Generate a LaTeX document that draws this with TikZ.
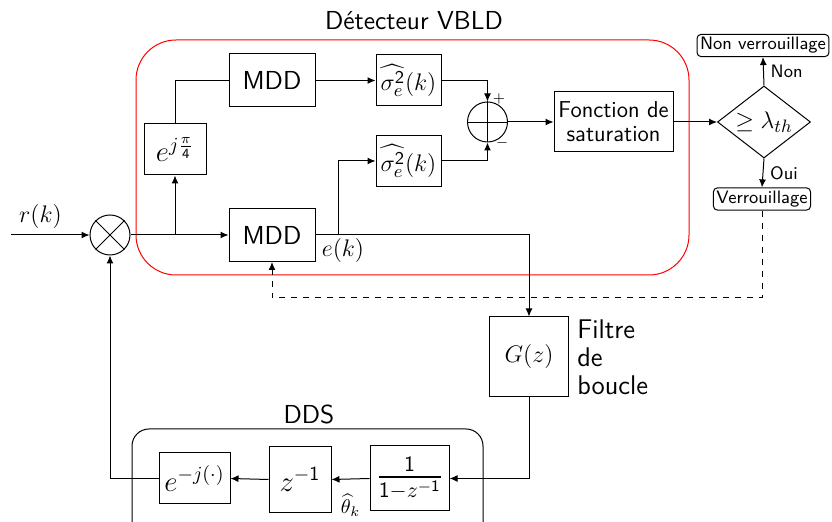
\documentclass[tikz,border=0pt]{standalone}
\usepackage{amsmath}
\usepackage{xcolor}
\usetikzlibrary{positioning,arrows.meta,shapes.geometric}
\DeclareSymbolFont{sfdigits}{OT1}{cmss}{m}{n}
\DeclareMathSymbol{1}{\mathalpha}{sfdigits}{`1}
\DeclareMathSymbol{2}{\mathalpha}{sfdigits}{`2}
\DeclareMathSymbol{4}{\mathalpha}{sfdigits}{`4}

\begin{document}
\begin{tikzpicture}[
      x=0.5pt, y=-0.5pt,
      font=\sffamily\fontsize{13}{15.5}\selectfont,
      box/.style={draw, line width=0.5pt, align=center, inner sep=0pt},
      tag/.style={draw, rounded corners=2pt, inner sep=1.5pt, line width=0.5pt, font=\sffamily\small},
      circ/.style={draw, circle, minimum size=20pt, inner sep=0pt, line width=0.5pt},
      arrow/.style={-{Latex[length=4pt, width=3.5pt]}, line width=0.5pt}
    ]
    \useasboundingbox (0,0) rectangle (832,522);
    \draw[red, rounded corners=20pt, line width=0.5pt] (136,40) rectangle (689,275);
    \draw[rounded corners=8.5pt, line width=0.5pt] (132,429) rectangle (483,545);
    \node (dettitle) at (414,21) {Détecteur VBLD};
    \node (ddstitle) at (309,414) {DDS};

    \node[circ] (mult) at (110,235) {};
    \node[box, minimum width=43pt, minimum height=26.5pt] (mdd1) at (272,80.5) {MDD};
    \node[box, minimum width=43pt, minimum height=26.5pt] (mdd2) at (272,235) {MDD};
    \node[box, minimum width=31pt, minimum height=25.5pt, font=\Large] (ejpi) at (175,149.5) {$e^{j\frac{\pi}{4}}$};
    \node[box, minimum width=32.5pt, minimum height=25.5pt] (sig1) at (408.5,80.5) {$\widehat{\sigma_e^2}(k)$};
    \node[box, minimum width=32.5pt, minimum height=25.5pt] (sig2) at (408.5,161) {$\widehat{\sigma_e^2}(k)$};
    \node[circ] (sum) at (487.5,122) {};
    \node[box, minimum width=59.5pt, minimum height=30pt, font=\sffamily\fontsize{11.5}{12}\selectfont] (fonc) at (613.5,122) {Fonction de\\saturation};
    \node[draw, diamond, aspect=1.3, minimum width=46.5pt, minimum height=36pt, inner sep=0pt, line width=0.5pt] (dec) at (764,122) {$\geq \lambda_{th}$};
    \node[tag] (nonv) at (763,45.5) {Non verrouillage};
    \node[tag] (verr) at (762,199) {Verrouillage};
    \node[box, minimum width=39.5pt, minimum height=40pt] (filt) at (529,357) {$G(z)$};
    \node[anchor=north west, inner sep=0pt, align=left, font=\sffamily\fontsize{13.5}{14}\selectfont] (filtlab) at (577,319) {Filtre\\de\\boucle};
    \node[box, minimum width=35.5pt, minimum height=25.5pt, font=\Large] (ejm) at (194.5,478.5) {$e^{-j(\cdot)}$};
    \node[box, minimum width=31pt, minimum height=33pt, font=\Large] (zinv) at (300,479.5) {$z^{-1}$};
    \node[box, minimum width=39.5pt, minimum height=32.5pt, font=\fontsize{16}{18}\selectfont] (integ) at (409.7,478.5) {$\frac{1}{1-z^{-1}}$};

    \draw (mult.north west) -- (mult.south east) (mult.north east) -- (mult.south west);
    \draw (sum.north) -- (sum.south) (sum.west) -- (sum.east);

    \coordinate (in) at (11,235);
    \coordinate (ek) at (338,235);
    \coordinate (lk) at (272,298);
    \node (rk) at (40.5,217) {$r(k)$};
    \draw[arrow] (in) -- (mult.west);
    \draw[arrow] (mult.east) -- (mdd2.west);
    \draw[arrow] (mult.east -| ejpi.south) -- (ejpi.south);
    \draw (ejpi.north) |- (mdd1.west);
    \draw[arrow] (mdd1.east) -- (sig1.west);
    \draw[arrow] (mdd2.east) -| (filt.north);
    \draw[arrow] (ek) |- (sig2.west);
    \node (eklab) at (343,251) {$e(k)$};
    \draw[arrow] (sig1.east) -| (sum.north);
    \draw[arrow] (sig2.east) -| (sum.south);
    \node[font=\scriptsize] (plus) at (499,99) {$+$};
    \node[font=\scriptsize] (minus) at (502,143) {$-$};
    \draw[arrow] (sum.east) -- (fonc.west);
    \draw[arrow] (fonc.east) -- (dec.west);
    \draw[arrow] (dec.north) -- node[right, font=\sffamily\small] (nonlab) {Non} (nonv.south);
    \draw[arrow] (dec.south) -- node[right, font=\sffamily\small] (ouilab) {Oui} (verr.north);
    \draw[arrow, dashed] (verr.south) |- (lk) -- (mdd2.south);
    \draw[arrow] (filt.south) |- (integ.east);
    \draw[arrow] (integ.west) -- node[below, yshift=-4pt, font=\normalsize] (theta) {$\widehat{\theta}_k$} (zinv.east);
    \draw[arrow] (zinv.west) -- (ejm.east);
    \draw[arrow] (ejm.west) -| (mult.south);
  \end{tikzpicture}
\end{document}
